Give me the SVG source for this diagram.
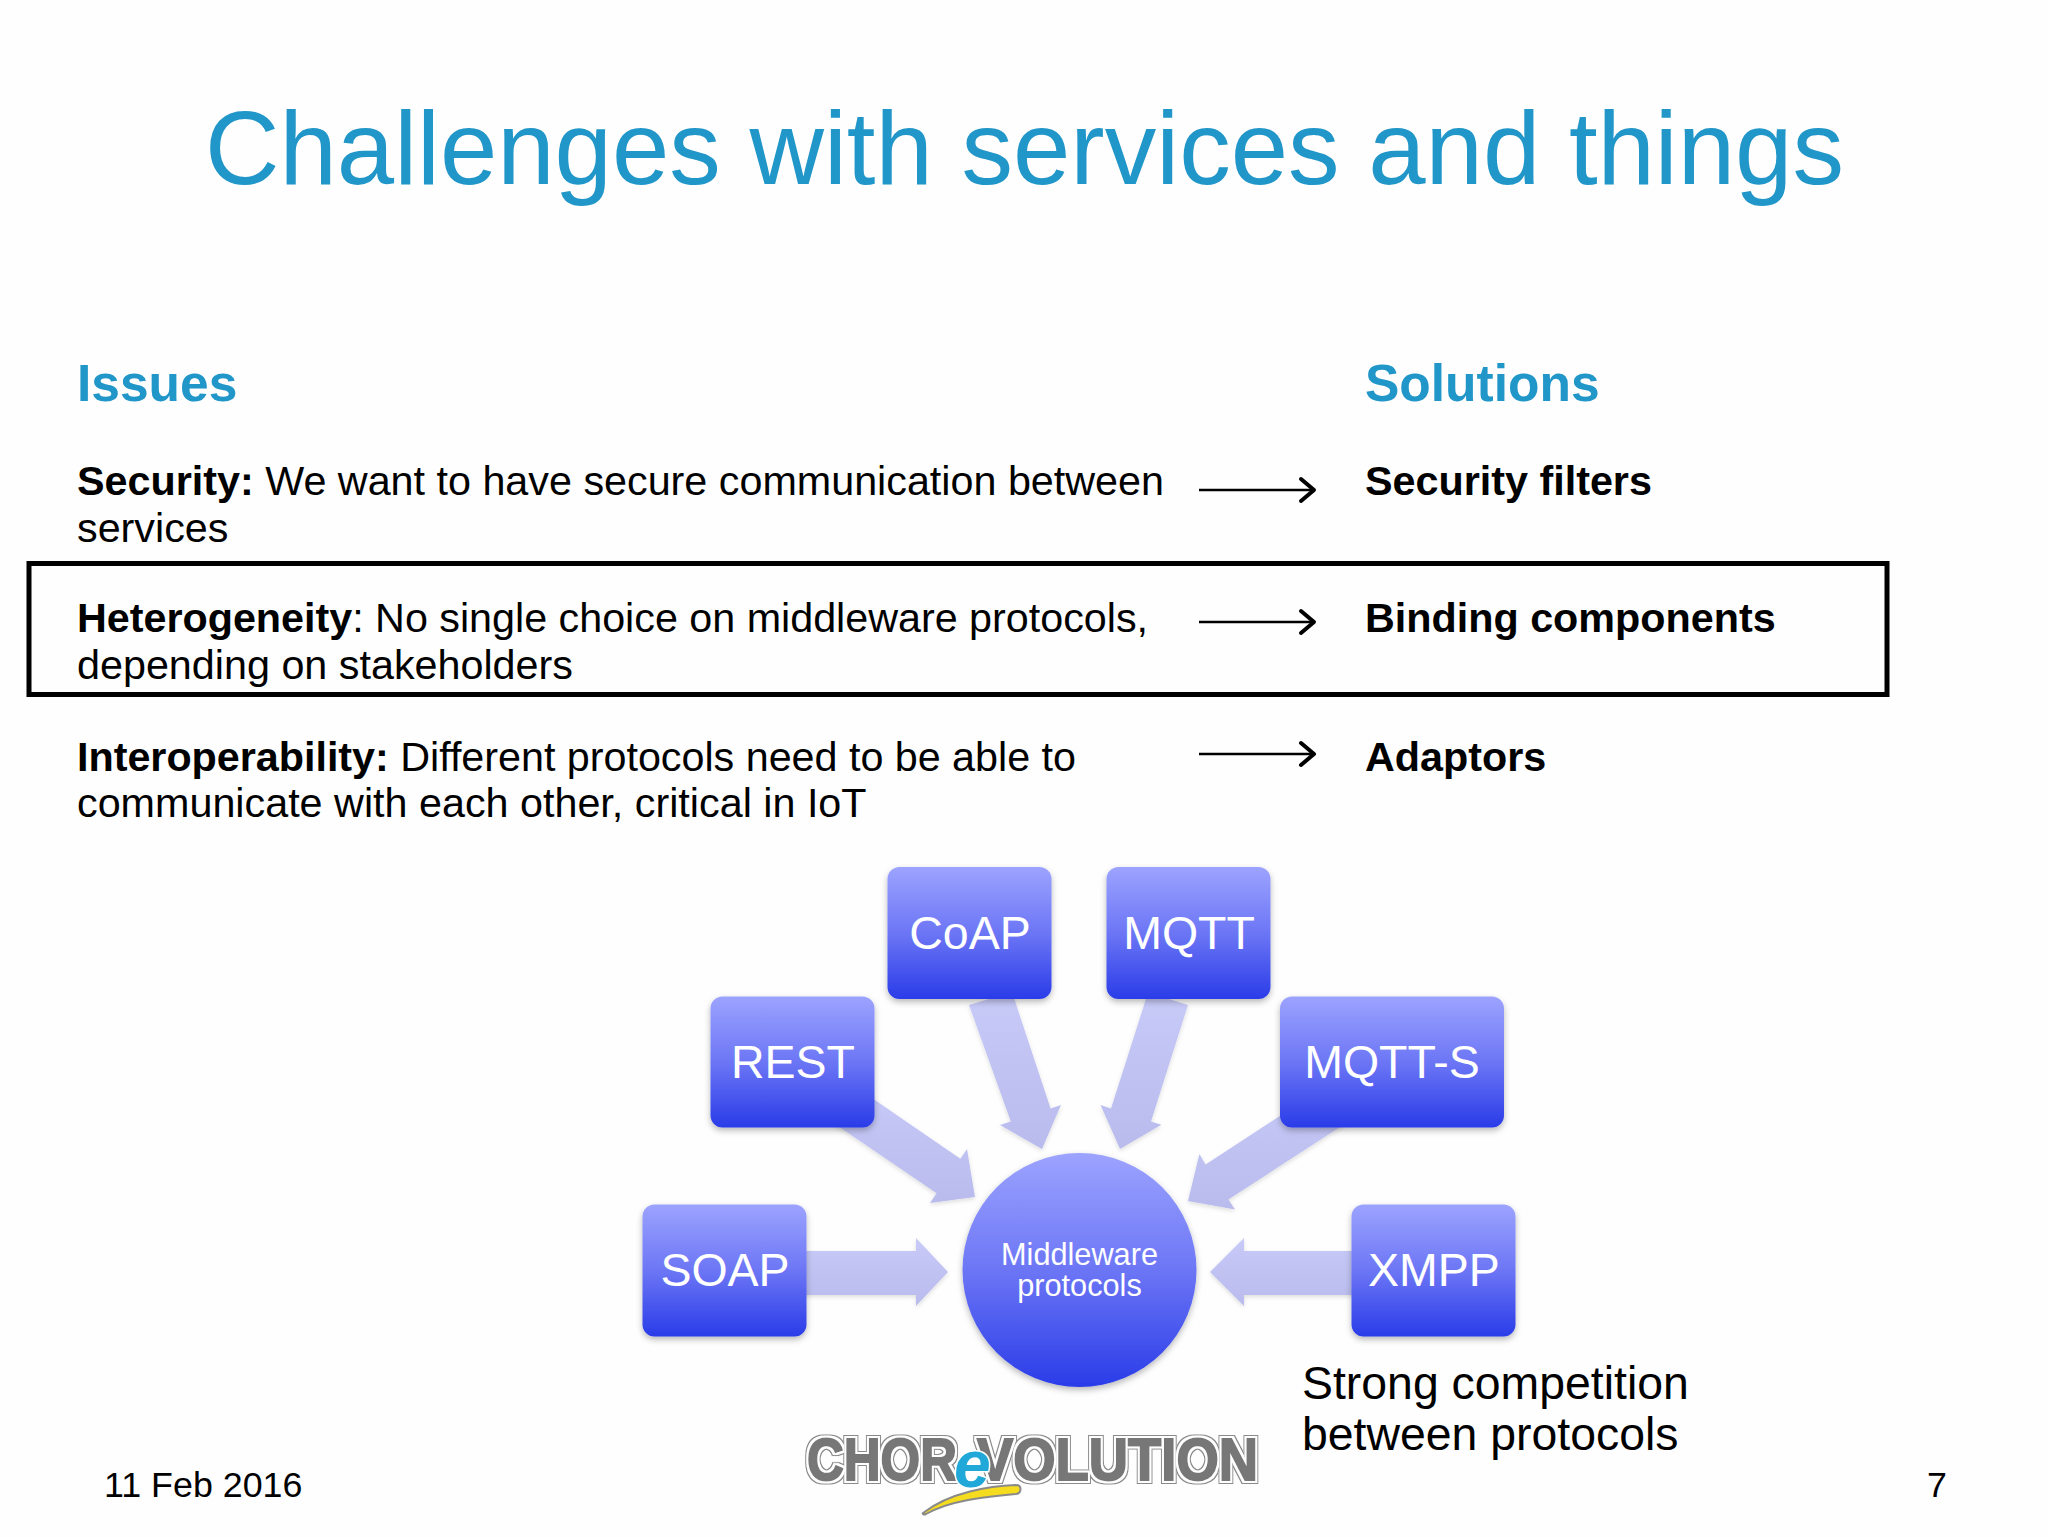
<svg xmlns="http://www.w3.org/2000/svg" width="2048" height="1537" viewBox="0 0 2048 1537">
<style>
text{font-family:"Liberation Sans",Arial,sans-serif;fill:#000}
.h{fill:#2196c8;font-weight:700;font-size:51.5px}
.b{font-size:41.3px}
.bb{font-weight:700}
.n{fill:#fff;font-size:46.5px;text-anchor:middle}
.box{fill:url(#g);filter:url(#s)}
.arr{filter:url(#s2)}
.thin{fill:none;stroke:#000;stroke-width:2.6}
.hd{fill:none;stroke:#000;stroke-width:4;stroke-linecap:round;stroke-linejoin:round}
.logo{font-weight:700;font-size:59px;fill:#777;stroke:#777;stroke-width:2;filter:url(#o)}
</style>
<defs>
<linearGradient id="g" x1="0" y1="0" x2="0" y2="1"><stop offset="0" stop-color="#9ca3ff"/><stop offset=".5" stop-color="#6c76f5"/><stop offset="1" stop-color="#2a3ce8"/></linearGradient>
<linearGradient id="a" x1="0" y1="0" x2="0" y2="1"><stop offset="0" stop-color="#c8cbf8"/><stop offset="1" stop-color="#b8bbec"/></linearGradient>
<filter id="s" x="-10%" y="-10%" width="120%" height="125%"><feDropShadow dx="0" dy="3" stdDeviation="3" flood-color="#000" flood-opacity=".28"/></filter>
<filter id="s2" x="-10%" y="-10%" width="120%" height="125%"><feDropShadow dx="0" dy="2" stdDeviation="2" flood-color="#000" flood-opacity=".13"/></filter>
<filter id="o" x="-5%" y="-20%" width="110%" height="140%">
<feMorphology in="SourceAlpha" operator="dilate" radius="2" result="d1"/>
<feMorphology in="SourceAlpha" operator="dilate" radius="3" result="d2"/>
<feFlood flood-color="#8a8a8a"/><feComposite in2="d2" operator="in" result="c2"/>
<feFlood flood-color="#fff"/><feComposite in2="d1" operator="in" result="c1"/>
<feMerge><feMergeNode in="c2"/><feMergeNode in="c1"/><feMergeNode in="SourceGraphic"/></feMerge>
</filter>
</defs>
<rect width="2048" height="1537" fill="#fefefe"/>

<text id="title" x="205" y="184" font-size="104" textLength="1639" lengthAdjust="spacingAndGlyphs" style="fill:#2196c8">Challenges with services and things</text>

<g id="issues">
<text class="h" x="77" y="401">Issues</text>
<text class="b" x="77" y="495" textLength="1087"><tspan class="bb">Security:</tspan> We want to have secure communication between</text>
<text class="b" x="77" y="542">services</text>
<text class="b" x="77" y="632" textLength="1071"><tspan class="bb">Heterogeneity</tspan>: No single choice on middleware protocols,</text>
<text class="b" x="77" y="679">depending on stakeholders</text>
<text class="b" x="77" y="771" textLength="999"><tspan class="bb">Interoperability:</tspan> Different protocols need to be able to</text>
<text class="b" x="77" y="817">communicate with each other, critical in IoT</text>
</g>
<g id="solutions">
<text class="h" x="1365" y="401">Solutions</text>
<text class="b bb" x="1365" y="495">Security filters</text>
<text class="b bb" x="1365" y="632">Binding components</text>
<text class="b bb" x="1365" y="771">Adaptors</text>
</g>
<g id="highlight"><rect x="29" y="563.5" width="1858" height="131" fill="none" stroke="#000" stroke-width="5"/></g>

<g id="connectors">
<path class="thin" d="M1199 490H1314"/><path class="hd" d="M1301 479L1314 490L1301 501"/>
<path class="thin" d="M1199 622H1314"/><path class="hd" d="M1301 611L1314 622L1301 633"/>
<path class="thin" d="M1199 754H1314"/><path class="hd" d="M1301 743L1314 754L1301 765"/>
<g fill="url(#a)">
<polygon class="arr" points="800,1251 916,1251 916,1238 948,1272 916,1306 916,1295 800,1295"/>
<polygon class="arr" points="1360,1251 1244,1251 1244,1238 1210,1272 1244,1306 1244,1295 1360,1295"/>
<polygon class="arr" points="969,1005 1010.8,1121.6 1000,1125 1042,1149 1061,1105 1050.6,1108.4 1012,992"/>
<polygon class="arr" points="1188,1005 1151,1121.4 1161.4,1124.8 1120,1149 1100.5,1105 1111,1108.6 1148,992.6"/>
<polygon class="arr" points="853,1085 960.4,1158.7 967,1149 975,1197 930,1203 936.6,1193.3 829,1120"/>
<polygon class="arr" points="1354,1118 1228.4,1199.6 1235,1209.5 1188,1201 1199.4,1154 1205.6,1164.4 1332,1082"/>
</g>
</g>

<g id="node-coap"><rect class="box" x="887.5" y="867" width="164" height="132" rx="12"/><text class="n" x="970" y="949">CoAP</text></g>
<g id="node-mqtt"><rect class="box" x="1106.5" y="867" width="164" height="132" rx="12"/><text class="n" x="1189" y="949">MQTT</text></g>
<g id="node-rest"><rect class="box" x="710.5" y="996.5" width="164" height="131" rx="12"/><text class="n" x="793" y="1078">REST</text></g>
<g id="node-mqtts"><rect class="box" x="1280" y="996.5" width="224" height="131" rx="12"/><text class="n" x="1392" y="1078">MQTT-S</text></g>
<g id="node-soap"><rect class="box" x="642.5" y="1204.5" width="164" height="132" rx="12"/><text class="n" x="725" y="1286">SOAP</text></g>
<g id="node-xmpp"><rect class="box" x="1351.5" y="1204.5" width="164" height="132" rx="12"/><text class="n" x="1434" y="1286">XMPP</text></g>
<g id="node-middleware"><circle class="box" cx="1079.5" cy="1270" r="117"/>
<text class="n" x="1079.5" y="1265" style="font-size:30.7px">Middleware</text>
<text class="n" x="1079.5" y="1296" style="font-size:30.7px">protocols</text></g>

<g id="note">
<text x="1302" y="1399" font-size="46.4">Strong competition</text>
<text x="1302" y="1450" font-size="46.4">between protocols</text>
</g>
<g id="footer">
<text x="104" y="1497" font-size="35.8">11 Feb 2016</text>
<text x="1927" y="1497" font-size="35.8">7</text>
</g>
<g id="logo">
<text class="logo" x="807" y="1480" textLength="150" lengthAdjust="spacingAndGlyphs">CHOR</text>
<text class="logo" x="977" y="1480" textLength="281" lengthAdjust="spacingAndGlyphs">VOLUTION</text>
<path d="M923 1513C950 1492 990 1486 1016 1485C1022 1485 1022 1493 1016 1494C985 1497 950 1500 926 1514C924 1515 922 1514 923 1513Z" fill="#f6dc1e" stroke="#8a8a8a" stroke-width="2" stroke-linejoin="round"/>
<text x="954" y="1487" font-size="66" font-weight="700" font-style="italic" style="fill:#1fa8d8;stroke:#fff;stroke-width:3;paint-order:stroke">e</text>
</g>
</svg>
